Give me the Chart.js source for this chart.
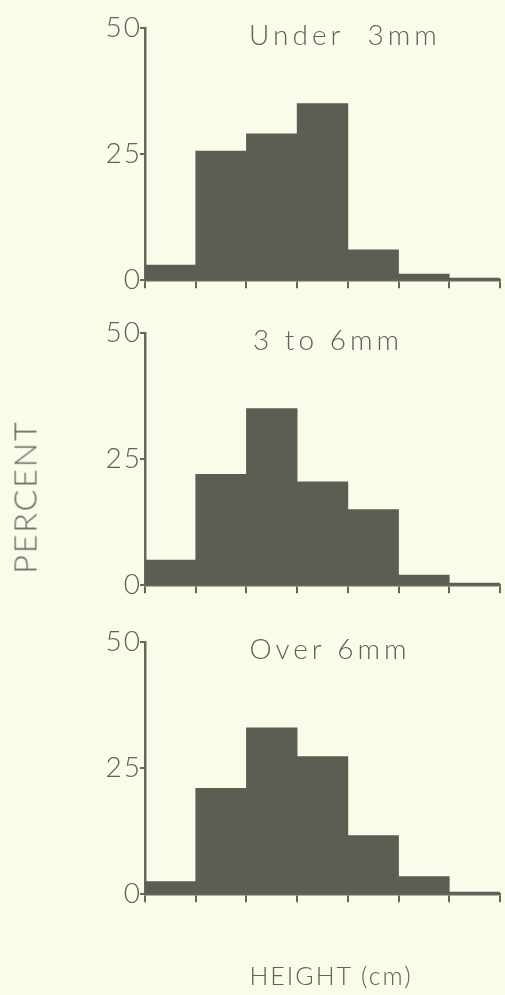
<!DOCTYPE html>
<html>
<head>
<meta charset="utf-8">
<script src="https://cdn.jsdelivr.net/npm/chart.js@4/dist/chart.umd.min.js"></script>
<style>
  html, body { margin: 0; padding: 0; background: #fbfbe9; }
  body { width: 505px; height: 995px; position: relative; overflow: hidden;
         font-family: Lato, "DejaVu Sans", sans-serif; font-weight: 300; color: #606159; }
  canvas { position: absolute; left: 0; }
  .axis-title { position: absolute; white-space: nowrap; will-change: transform; }
  #ytitle { left: 24px; top: 497px; font-size: 32px; letter-spacing: 2px;
            transform: translate(-50%, -50%) rotate(-90deg); }
  #xtitle { left: 331px; top: 975px; font-size: 25px; letter-spacing: 2px;
            transform: translate(-50%, -50%); }
</style>
</head>
<body>
<canvas id="c1" width="505" height="295" style="top:0px"></canvas>
<canvas id="c2" width="505" height="295" style="top:305px"></canvas>
<canvas id="c3" width="505" height="295" style="top:614px"></canvas>
<div class="axis-title" id="ytitle">PERCENT</div>
<div class="axis-title" id="xtitle">HEIGHT (cm)</div>
<script>
// Height classes (seven equal-width bins)
const bins = ['1', '2', '3', '4', '5', '6', '7'];

// Percent of plants in each height class, by stem diameter group
const under3mm = [3, 25.6, 29, 35, 6, 1.2, 0.4];
const from3to6mm = [5, 22, 35, 20.5, 15, 2, 0.4];
const over6mm = [2.5, 21, 33, 27.3, 11.6, 3.5, 0.4];

const yTicks = [0, 25, 50];
const panelTitles = ['Under  3mm', '3 to 6mm', 'Over 6mm'];

const INK = '#606159';
const BAR = '#5b5e53';
const AXIS = '#66675e';

// Draws the panel caption inside the plot area, near the top
const captionPlugin = {
  id: 'caption',
  beforeDraw(chart) {
    chart.ctx.letterSpacing = '2px';
  },
  afterDraw(chart, args, opts) {
    const { ctx, chartArea } = chart;
    ctx.save();
    ctx.letterSpacing = '4px';
    ctx.font = '300 28px Lato';
    ctx.fillStyle = INK;
    ctx.textAlign = 'center';
    ctx.textBaseline = 'middle';
    ctx.fillText(opts.text, opts.cx, chartArea.top + 8);
    ctx.restore();
  }
};

function makePanel(id, values, title, cx) {
  new Chart(document.getElementById(id), {
    type: 'bar',
    data: {
      labels: bins,
      datasets: [{
        data: values,
        backgroundColor: BAR,
        borderWidth: 0,
        barPercentage: 1,
        categoryPercentage: 1
      }]
    },
    plugins: [captionPlugin],
    options: {
      responsive: false,
      animation: false,
      layout: { padding: { left: 0, right: 5, top: 28, bottom: 0 } },
      plugins: {
        legend: { display: false },
        tooltip: { enabled: false },
        caption: { text: title, cx: cx }
      },
      scales: {
        x: {
          offset: true,
          grid: {
            offset: true,
            drawOnChartArea: false,
            drawTicks: true,
            tickLength: 8,
            color: AXIS,
            lineWidth: 2
          },
          border: { display: true, color: AXIS, width: 2.5 },
          ticks: { display: false },
          afterFit: s => { s.height = 12; }
        },
        y: {
          min: 0,
          max: 50,
          afterBuildTicks: s => { s.ticks = yTicks.map(v => ({ value: v })); },
          grid: {
            drawOnChartArea: false,
            drawTicks: true,
            tickLength: 5,
            color: AXIS,
            lineWidth: 2
          },
          border: { display: true, color: AXIS, width: 2.5 },
          ticks: {
            padding: -2,
            color: INK,
            font: { family: 'Lato', size: 28, weight: 300 }
          },
          afterFit: s => { s.width = 145; }
        }
      }
    }
  });
}

makePanel('c1', under3mm, panelTitles[0], 345);
makePanel('c2', from3to6mm, panelTitles[1], 328);
makePanel('c3', over6mm, panelTitles[2], 330);
</script>
</body>
</html>
